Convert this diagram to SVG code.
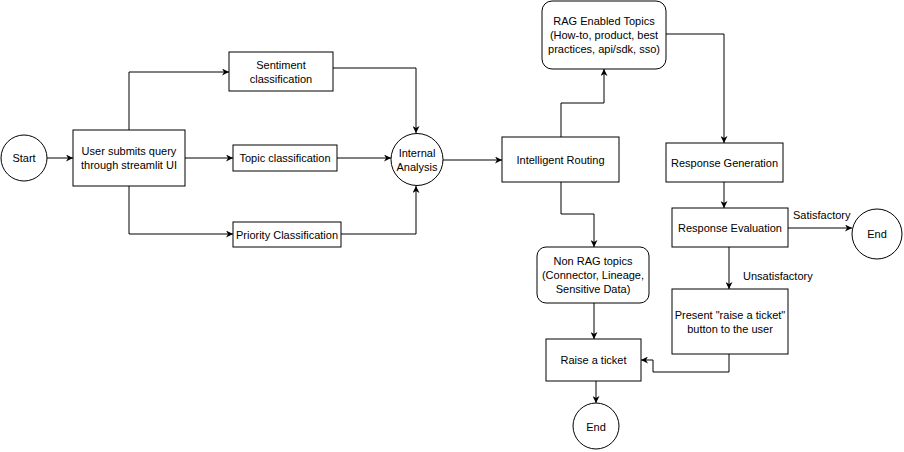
<svg xmlns="http://www.w3.org/2000/svg" width="904" height="452" viewBox="0 0 904 452">
<defs>
<marker id="arr" viewBox="0 0 10 10" refX="10" refY="5" markerWidth="7" markerHeight="7" markerUnits="userSpaceOnUse" orient="auto">
<path d="M0,0 L10,5 L0,10 L3,5 Z" fill="#000"/>
</marker>
<style>
.n{fill:#fff;stroke:#000;stroke-width:1}
.t{font-family:"Liberation Sans",Arial,sans-serif;font-size:11px;fill:#000;text-anchor:middle;dominant-baseline:central}
.l{font-family:"Liberation Sans",Arial,sans-serif;font-size:11px;fill:#000;dominant-baseline:central}
.c{fill:none;stroke:#000;stroke-width:1;marker-end:url(#arr)}
</style>
</defs>
<rect width="904" height="452" fill="#fff"/>
<g id="connectors">
<path class="c" d="M47,158 L73,158"/>
<path class="c" d="M129,130 L129,72 L229,72"/>
<path class="c" d="M185,158 L233,158"/>
<path class="c" d="M129,186 L129,234 L233,234"/>
<path class="c" d="M333,68 L416,68 L416,133"/>
<path class="c" d="M337,158 L391,158"/>
<path class="c" d="M341,234 L416,234 L416,186"/>
<path class="c" d="M443,160 L502,160"/>
<path class="c" d="M561,137 L561,103 L604,103 L604,69"/>
<path class="c" d="M666,34 L724,34 L724,143"/>
<path class="c" d="M561,182 L561,214 L594,214 L594,247"/>
<path class="c" d="M724,182 L724,208"/>
<path class="c" d="M788,228 L852,228"/>
<path class="c" d="M729,247 L729,289"/>
<path class="c" d="M594,303 L594,339"/>
<path class="c" d="M729,354 L729,372 L653,372 L653,360 L641,360"/>
<path class="c" d="M596,381 L596,403"/>
<text class="l" x="793" y="215">Satisfactory</text>
<text class="l" x="743" y="276">Unsatisfactory</text>
</g>
<g id="start"><circle class="n" cx="24" cy="158" r="23"/><text class="t" x="24" y="158">Start</text></g>
<g id="user"><rect class="n" x="73" y="130" width="112" height="56"/><text class="t" x="129" y="151">User submits query</text><text class="t" x="129" y="165">through streamlit UI</text></g>
<g id="sentiment"><rect class="n" x="229" y="52" width="104" height="39"/><text class="t" x="281" y="65">Sentiment</text><text class="t" x="281" y="79">classification</text></g>
<g id="topic"><rect class="n" x="233" y="145" width="104" height="26"/><text class="t" x="285" y="158">Topic classification</text></g>
<g id="priority"><rect class="n" x="233" y="222" width="108" height="25"/><text class="t" x="287" y="235">Priority Classification</text></g>
<g id="internal"><circle class="n" cx="417" cy="159.5" r="26"/><text class="t" x="417" y="153">Internal</text><text class="t" x="417" y="167">Analysis</text></g>
<g id="routing"><rect class="n" x="502" y="137" width="117" height="45"/><text class="t" x="560.5" y="160">Intelligent Routing</text></g>
<g id="rag"><rect class="n" x="542" y="1" width="124" height="68" rx="10"/><text class="t" x="604" y="21">RAG Enabled Topics</text><text class="t" x="604" y="35">(How-to, product, best</text><text class="t" x="604" y="49">practices, api/sdk, sso)</text></g>
<g id="respgen"><rect class="n" x="666" y="143" width="117" height="39"/><text class="t" x="724.5" y="163">Response Generation</text></g>
<g id="respeval"><rect class="n" x="672" y="208" width="116" height="39"/><text class="t" x="730" y="228">Response Evaluation</text></g>
<g id="end1"><circle class="n" cx="877" cy="234" r="25"/><text class="t" x="877" y="234">End</text></g>
<g id="nonrag"><rect class="n" x="537" y="247" width="112" height="56" rx="9"/><text class="t" x="593" y="261">Non RAG topics</text><text class="t" x="593" y="275">(Connector, Lineage,</text><text class="t" x="593" y="289">Sensitive Data)</text></g>
<g id="present"><rect class="n" x="672" y="289" width="116" height="65"/><text class="t" x="730" y="315">Present "raise a ticket"</text><text class="t" x="730" y="329">button to the user</text></g>
<g id="raise"><rect class="n" x="546" y="339" width="95" height="42"/><text class="t" x="593.5" y="360">Raise a ticket</text></g>
<g id="end2"><circle class="n" cx="596" cy="426" r="23"/><text class="t" x="596" y="427">End</text></g>
</svg>
